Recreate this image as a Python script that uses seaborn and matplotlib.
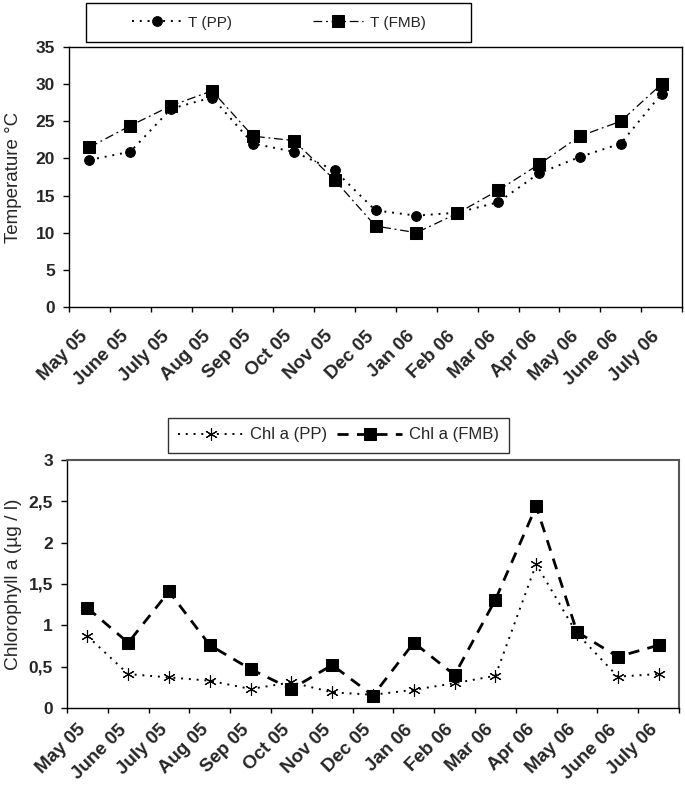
import numpy as np
import pandas as pd
import matplotlib
matplotlib.use("Agg")
import matplotlib.pyplot as plt
import seaborn as sns
from matplotlib.ticker import FuncFormatter, FixedLocator
from matplotlib.patches import Rectangle

months = ["May 05", "June 05", "July 05", "Aug 05", "Sep 05", "Oct 05", "Nov 05",
          "Dec 05", "Jan 06", "Feb 06", "Mar 06", "Apr 06", "May 06", "June 06", "July 06"]

temp_pp = [19.8, 20.9, 26.7, 28.2, 22.0, 20.9, 18.4, 13.0, 12.3, 12.7, 14.1, 18.0, 20.2, 22.0, 28.7]
temp_fmb = [21.5, 24.4, 27.1, 29.1, 23.0, 22.4, 17.1, 10.9, 10.0, 12.6, 15.7, 19.2, 23.0, 25.0, 30.0]

chl_pp = [0.87, 0.41, 0.37, 0.33, 0.23, 0.31, 0.19, 0.16, 0.22, 0.30, 0.39, 1.74, 0.90, 0.38, 0.41]
chl_fmb = [1.21, 0.79, 1.41, 0.76, 0.47, 0.23, 0.52, 0.15, 0.79, 0.40, 1.31, 2.44, 0.92, 0.62, 0.76]

temp_ticks = [0, 5, 10, 15, 20, 25, 30, 35]
chl_ticks = [0, 0.5, 1, 1.5, 2, 2.5, 3]

sns.set_theme(style="white")
plt.rcParams['font.family'] = ['Liberation Sans', 'DejaVu Sans']

df = pd.DataFrame({"idx": np.arange(len(months)), "month": months,
                   "temp_pp": temp_pp, "temp_fmb": temp_fmb,
                   "chl_pp": chl_pp, "chl_fmb": chl_fmb})

fig = plt.figure(figsize=(6.85, 7.86), dpi=100)
ax1 = fig.add_axes([69/685, 1-307/786, (682-69)/685, (307-47)/786])
ax2 = fig.add_axes([67/685, 1-708/786, (679-67)/685, (708-460)/786])

# Top chart
sns.lineplot(data=df, x="idx", y="temp_pp", ax=ax1, color="black", marker="o",
             markersize=7, linestyle=(0, (1, 3)), linewidth=1.4, label="T (PP)",
             markeredgecolor="black", errorbar=None, legend=False)
sns.lineplot(data=df, x="idx", y="temp_fmb", ax=ax1, color="black", marker="s",
             markersize=8, linestyle=(0, (7, 3, 1.5, 3)), linewidth=0.9, label="T (FMB)",
             markeredgecolor="black", errorbar=None, legend=False)

# Bottom chart
sns.lineplot(data=df, x="idx", y="chl_pp", ax=ax2, color="black", marker=(6, 2, 0),
             markersize=9, linestyle=(0, (1, 3)), linewidth=1.4, label="Chl a (PP)",
             markeredgecolor="black", markeredgewidth=0.8, errorbar=None, legend=False)
sns.lineplot(data=df, x="idx", y="chl_fmb", ax=ax2, color="black", marker="s",
             markersize=8, linestyle=(0, (4, 3)), linewidth=2.0, label="Chl a (FMB)",
             markeredgecolor="black", errorbar=None, legend=False)

for ax, yticks, fmt, xpad in [(ax1, temp_ticks, lambda v, p: f"{v:g}", 15),
                              (ax2, chl_ticks, lambda v, p: f"{v:g}".replace(".", ","), 9.5)]:
    ax.set_xlim(-0.5, len(months) - 0.5)
    ax.set_ylim(yticks[0], yticks[-1])
    ax.set_yticks(yticks)
    ax.yaxis.set_major_formatter(FuncFormatter(fmt))
    ax.xaxis.set_major_locator(FixedLocator(np.arange(-0.5, len(months), 1)))
    ax.xaxis.set_minor_locator(FixedLocator(np.arange(len(months)) - 0.25))
    ax.set_xticklabels([], minor=False)
    ax.set_xticklabels(months, minor=True, rotation=45, ha="right", va="top",
                       rotation_mode="anchor", fontweight="bold", fontsize=13.5)
    ax.tick_params(axis="x", which="major", bottom=True, length=3.5, width=1, color="black", direction="out")
    ax.tick_params(axis="x", which="minor", bottom=True, length=0, pad=xpad)
    ax.tick_params(axis="y", left=True, length=4.5, width=1, color="black", direction="out",
                   labelsize=12.5, pad=5.5)
    for lab in ax.get_yticklabels():
        lab.set_fontweight("bold")
    for side, sp in ax.spines.items():
        sp.set_visible(True)
        sp.set_linewidth(1.0)
        sp.set_color("black")
    ax.set_xlabel("")
    ax.grid(False)

ax2.spines["top"].set_color("#555555")
ax2.spines["right"].set_color("#555555")
ax2.spines["top"].set_linewidth(1.5)
ax2.spines["right"].set_linewidth(1.5)

ax1.set_ylabel("Temperature °C", fontsize=13.5, labelpad=10)
ax2.set_ylabel("Chlorophyll a (µg / l)", fontsize=13.8, labelpad=5)

# Top legend: frameless legend inside a drawn box
fig.add_artist(Rectangle((86/685, 1-42/786), (471-86)/685, (42-3)/786,
                         transform=fig.transFigure, fill=False, edgecolor="black", linewidth=1.0))
h1 = ax1.get_lines()
fig.legend(h1, ["T (PP)", "T (FMB)"], loc="center", ncol=2,
           bbox_to_anchor=((86+471)/2/685, 1-22.5/786),
           fontsize=11, frameon=False, handlelength=3.3, handletextpad=0.4,
           columnspacing=5.3)

# Bottom legend
h2 = ax2.get_lines()
leg2 = fig.legend(h2, ["Chl a (PP)", "Chl a (FMB)"], loc="center", ncol=2,
                  bbox_to_anchor=(338.5/685, 1-435/786),
                  fontsize=12, frameon=True, fancybox=False, edgecolor="black",
                  handlelength=3.9, borderpad=0.6, handletextpad=0.4, columnspacing=0.6)
leg2.get_frame().set_linewidth(1.0)

fig.savefig("out.png", dpi=100)
